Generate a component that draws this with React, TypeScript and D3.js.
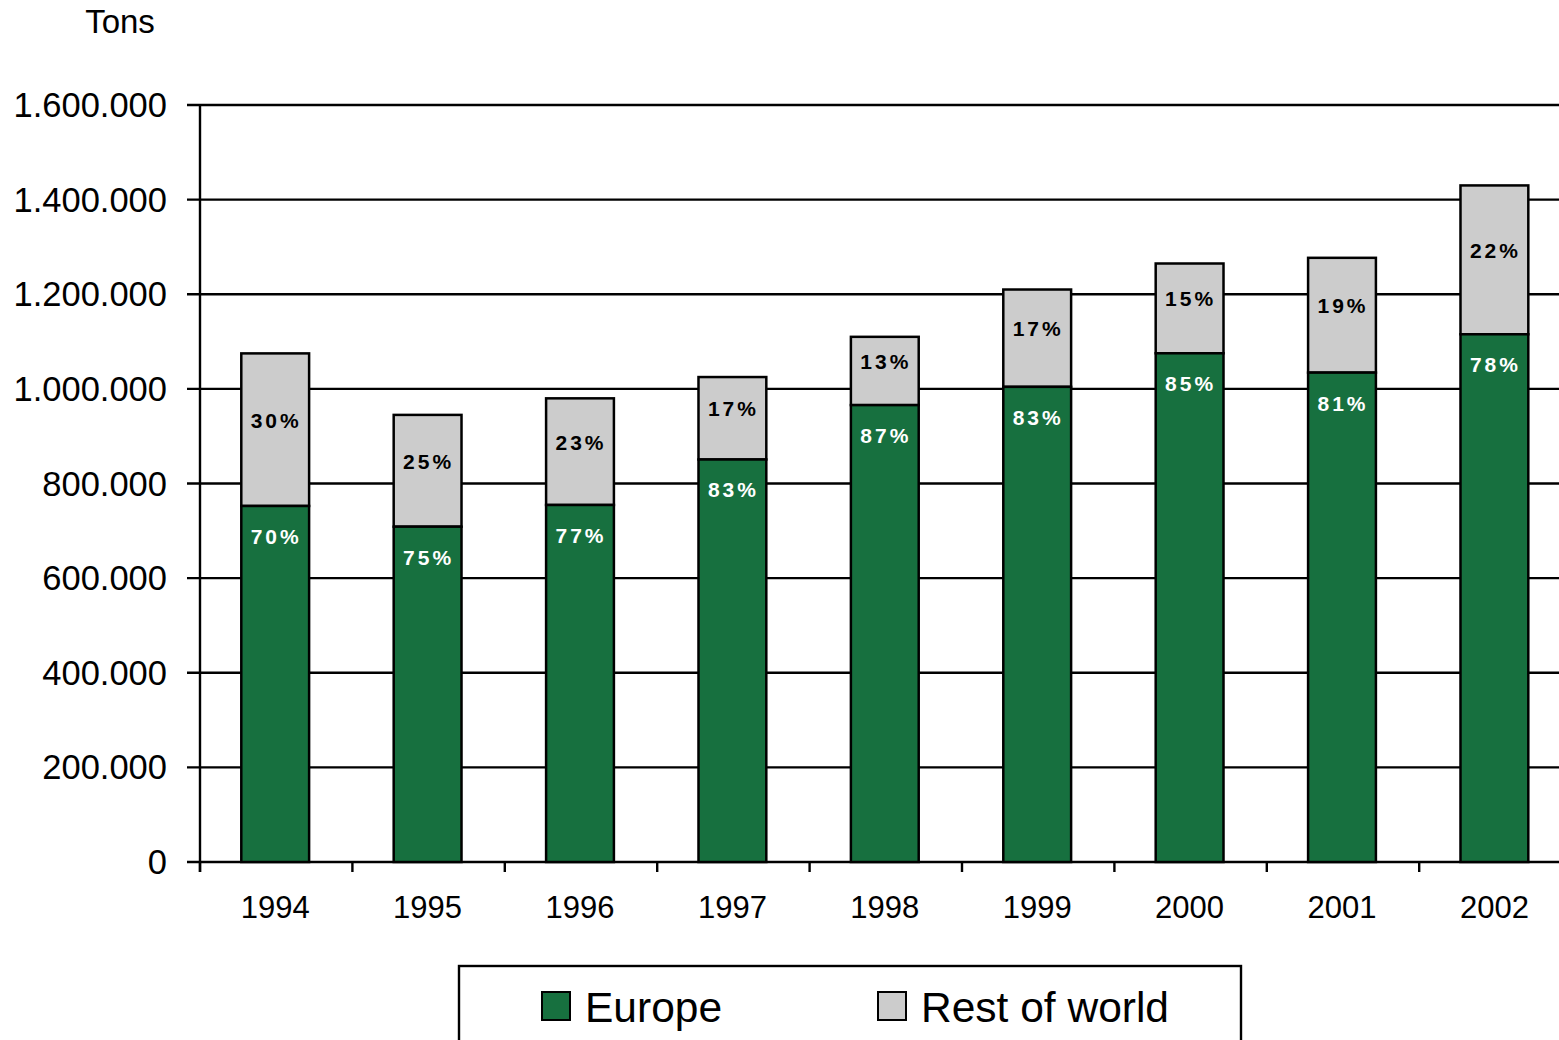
import React from "react";
import * as d3 from "d3";

// Annual tonnage, split between Europe and the rest of the world
const years = ["1994", "1995", "1996", "1997", "1998", "1999", "2000", "2001", "2002"];
const totalTons = [1075000, 945000, 980000, 1025000, 1110000, 1210000, 1265000, 1277000, 1430000];
const europeShare = [70, 75, 77, 83, 87, 83, 85, 81, 78];
const yTicks = [0, 200000, 400000, 600000, 800000, 1000000, 1200000, 1400000, 1600000];
const seriesNames = ["Europe", "Rest of world"];

const GREEN = "#17703F";
const GREY = "#CCCCCC";
const FONT = "Arial, 'Liberation Sans', sans-serif";

const W = 1559;
const H = 1040;
const left = 200;
const top = 105;
const bottom = 862;

export default function App() {
  const rows = years.map((year, i) => {
    const europe = (totalTons[i] * europeShare[i]) / 100;
    return { year, europe, rest: totalTons[i] - europe, share: europeShare[i] };
  });

  const x = d3.scaleBand<string>().domain(years).range([left - 1, left - 1 + 9 * 152.4]).padding(0);
  const y = d3.scaleLinear().domain([0, 1600000]).range([bottom, top]);
  const barW = x.bandwidth() * 0.445;

  const fmt = (v: number) => d3.format(",")(v).replace(/,/g, ".");

  return (
    <svg
      width={W}
      height={H}
      style={{ position: "absolute", left: 0, top: 0, background: "#fff" }}
      fontFamily={FONT}
    >
      <text x={120} y={33} fontSize={33} textAnchor="middle" fill="#000">
        Tons
      </text>

      {/* horizontal grid lines with their tick stubs */}
      {yTicks.map((t) => (
        <g key={t}>
          <line x1={187} x2={W} y1={y(t)} y2={y(t)} stroke="#000" strokeWidth={2.4} />
          <text x={167} y={y(t) + 12} fontSize={34.5} textAnchor="end" fill="#000">
            {fmt(t)}
          </text>
        </g>
      ))}

      {/* value axis */}
      <line x1={left} x2={left} y1={top} y2={872} stroke="#000" strokeWidth={2.4} />

      {/* category ticks at band boundaries */}
      {years.map((yr) => (
        <line
          key={"t" + yr}
          x1={x(yr)! + 1}
          x2={x(yr)! + 1}
          y1={bottom}
          y2={872}
          stroke="#000"
          strokeWidth={2.4}
        />
      ))}

      {rows.map((r) => {
        const cx = x(r.year)! + x.bandwidth() / 2;
        const yEu = y(r.europe);
        const yTot = y(r.europe + r.rest);
        return (
          <g key={r.year}>
            <rect
              x={cx - barW / 2}
              y={yTot}
              width={barW}
              height={yEu - yTot}
              fill={GREY}
              stroke="#000"
              strokeWidth={2.5}
            />
            <rect
              x={cx - barW / 2}
              y={yEu}
              width={barW}
              height={bottom - yEu}
              fill={GREEN}
              stroke="#000"
              strokeWidth={2.5}
            />
            <text
              x={cx + 1}
              y={(yTot + yEu) / 2 - 2}
              fontSize={21}
              fontWeight="bold"
              letterSpacing={3}
              textAnchor="middle"
              fill="#000"
            >
              {100 - r.share}%
            </text>
            <text
              x={cx + 1}
              y={yEu + 38}
              fontSize={21}
              fontWeight="bold"
              letterSpacing={3}
              textAnchor="middle"
              fill="#fff"
            >
              {r.share}%
            </text>
            <text x={cx} y={918} fontSize={31} textAnchor="middle" fill="#000">
              {r.year}
            </text>
          </g>
        );
      })}

      {/* legend */}
      <rect x={459} y={966} width={782} height={90} fill="#fff" stroke="#000" strokeWidth={2.4} />
      <rect x={542} y={992} width={28} height={28} fill={GREEN} stroke="#000" strokeWidth={2} />
      <text x={585} y={1022} fontSize={42.5} fill="#000">
        {seriesNames[0]}
      </text>
      <rect x={878} y={992} width={28} height={28} fill={GREY} stroke="#000" strokeWidth={2} />
      <text x={921} y={1022} fontSize={42.5} fill="#000">
        {seriesNames[1]}
      </text>
    </svg>
  );
}
